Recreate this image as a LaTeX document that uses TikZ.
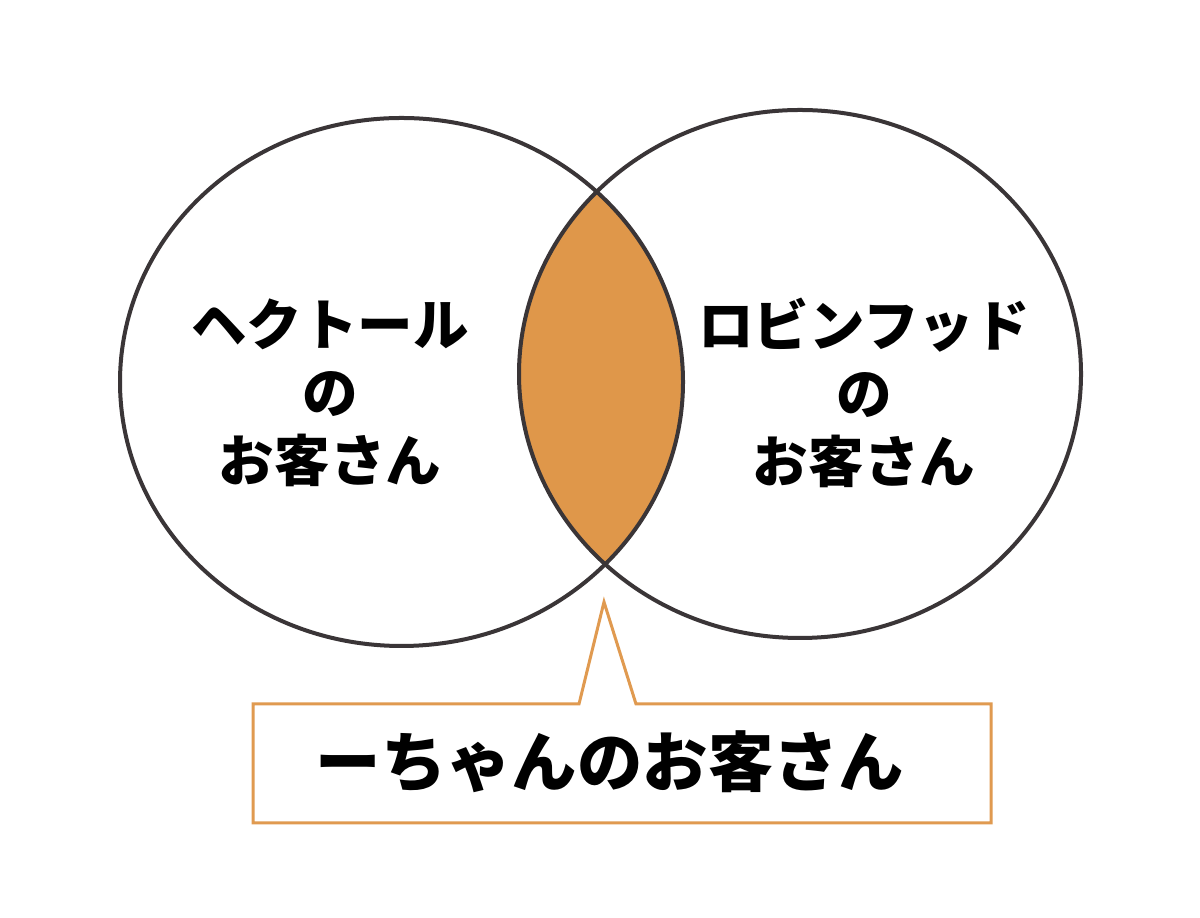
\documentclass[tikz,border=0pt]{standalone}
\usepackage{xcolor}
\usepackage{fontspec}
\usepackage{tikz}
\newfontfamily\jpfont{Noto Sans CJK JP}
\definecolor{ringgray}{HTML}{3A3537}
\definecolor{lensorange}{HTML}{DF974A}
\definecolor{calloutorange}{HTML}{E09A50}

\begin{document}
\begin{tikzpicture}[
    x=0.025cm, y=0.025cm,
    ring/.style={draw=ringgray, line width=0.1cm},
    label/.style={align=center, inner sep=0pt,
                  font=\jpfont\bfseries\fontsize{39.5}{48.4}\selectfont},
    callout/.style={draw=calloutorange, line width=0.075cm, line join=miter},
    bigtext/.style={inner sep=0pt, font=\jpfont\bfseries\fontsize{46.5}{56}\selectfont}
]
    \useasboundingbox[fill=white] (0,0) rectangle (1200,918);

    \coordinate (hector) at (401.5,536);
    \coordinate (robin)  at (800,544);

    % overlap of the two circles
    \begin{scope}
        \clip (hector) ellipse [x radius=281.5, y radius=264];
        \fill[lensorange] (robin) ellipse [x radius=281, y radius=264];
    \end{scope}

    \draw[ring] (hector) ellipse [x radius=281.5, y radius=264];
    \draw[ring] (robin)  ellipse [x radius=281, y radius=264];

    \node[label] (hectortext) at (330,525) {ヘクトール\\の\\お客さん};
    \node[label] (robintext)  at (864,525) {ロビンフッド\\の\\お客さん};

    % callout box with its pointer
    \coordinate (boxnw) at (253,214);
    \coordinate (boxse) at (991,95);
    \coordinate (tipl)  at (579,214);
    \coordinate (tip)   at (604,316);
    \coordinate (tipr)  at (636,214);
    \draw[callout] (tipl) -- (tip) -- (tipr) -- (boxnw -| boxse) -- (boxse)
        -- (boxse -| boxnw) -- (boxnw) -- cycle;

    \node[bigtext] (both) at (610,156) {ーちゃんのお客さん};
\end{tikzpicture}
\end{document}
